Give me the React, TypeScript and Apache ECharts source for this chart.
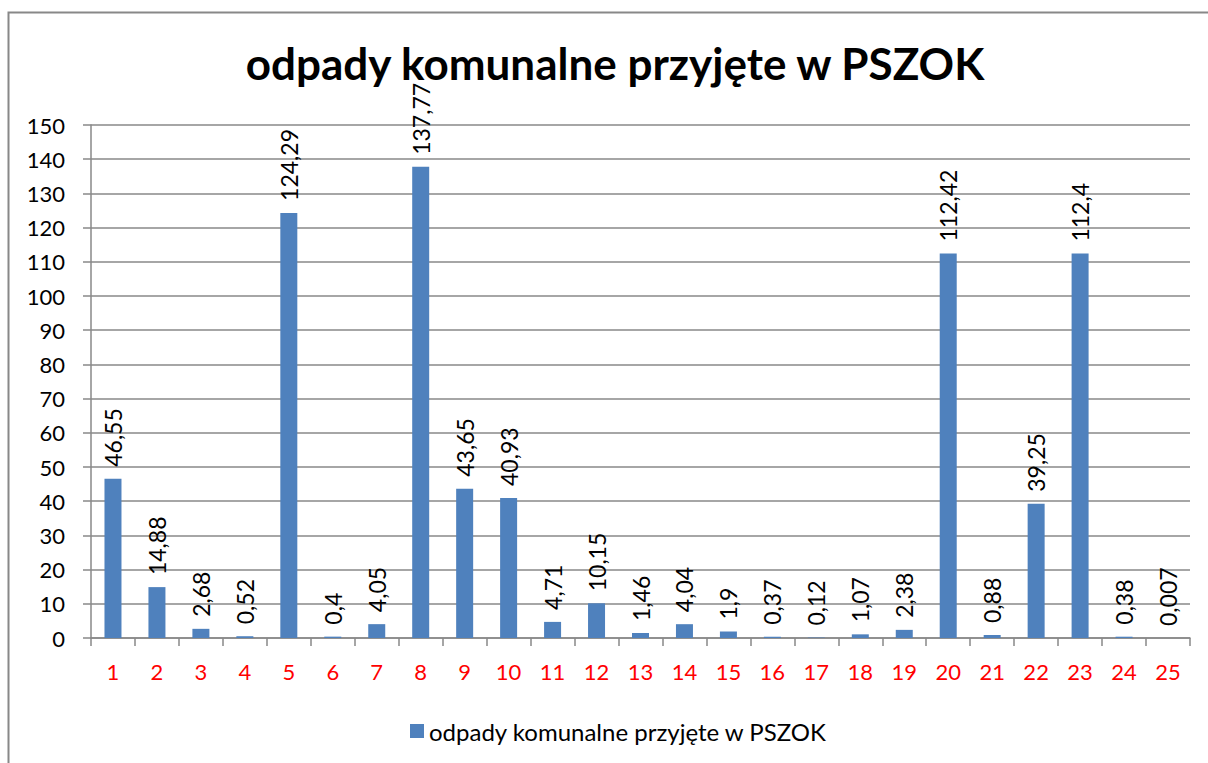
import React, { useEffect, useRef } from "react";
import * as echarts from "echarts";

const categories = ["1","2","3","4","5","6","7","8","9","10","11","12","13","14","15","16","17","18","19","20","21","22","23","24","25"];
const values = [46.55,14.88,2.68,0.52,124.29,0.4,4.05,137.77,43.65,40.93,4.71,10.15,1.46,4.04,1.9,0.37,0.12,1.07,2.38,112.42,0.88,39.25,112.4,0.38,0.007];
const labels = ["46,55","14,88","2,68","0,52","124,29","0,4","4,05","137,77","43,65","40,93","4,71","10,15","1,46","4,04","1,9","0,37","0,12","1,07","2,38","112,42","0,88","39,25","112,4","0,38","0,007"];
const seriesName = "odpady komunalne przyjęte w PSZOK";
const title = "odpady komunalne przyjęte w PSZOK";

const FONT = "Lato, 'Open Sans', sans-serif";

export default function App() {
  const ref = useRef<HTMLDivElement>(null);
  useEffect(() => {
    const chart = echarts.init(ref.current!, null, { renderer: "svg" });
    chart.setOption({
      animation: false,
      backgroundColor: "#fff",
      title: {
        text: title,
        left: 610,
        textAlign: "center",
        top: 36,
        textStyle: { fontFamily: FONT, fontSize: 44, fontWeight: "bold", color: "#000" },
      },
      graphic: [
        {
          type: "rect",
          shape: { x: 8.5, y: 12.5, width: 1230, height: 800 },
          style: { fill: "none", stroke: "#888", lineWidth: 2 },
          silent: true,
        },
      ],
      legend: {
        top: 714,
        left: 405,
        itemWidth: 14,
        itemHeight: 14,
        itemGap: 4,
        icon: "rect",
        textStyle: { fontFamily: FONT, fontSize: 24, color: "#000" },
        data: [seriesName],
      },
      grid: { left: 91, right: 18, top: 125, bottom: 125, containLabel: false },
      xAxis: {
        type: "category",
        data: categories,
        axisLine: { lineStyle: { color: "#888", width: 1.5 } },
        axisTick: { show: true, length: 8, lineStyle: { color: "#888", width: 1.5 } },
        axisLabel: { color: "#ff0000", fontFamily: FONT, fontSize: 22, margin: 22 },
      },
      yAxis: {
        type: "value",
        min: 0,
        max: 150,
        interval: 10,
        axisLine: { show: true, lineStyle: { color: "#888", width: 1.5 } },
        axisTick: { show: true, length: 8, lineStyle: { color: "#888", width: 1.5 } },
        splitLine: { lineStyle: { color: "#888", width: 1.5 } },
        axisLabel: { color: "#000", fontFamily: FONT, fontSize: 22, margin: 26 },
      },
      series: [
        {
          name: seriesName,
          type: "bar",
          data: values,
          barWidth: 17,
          itemStyle: { color: "#4F81BD" },
          label: {
            show: true,
            position: "top",
            rotate: 90,
            align: "left",
            verticalAlign: "middle",
            distance: 12,
            fontFamily: FONT,
            fontSize: 23,
            color: "#000",
            formatter: (p: any) => labels[p.dataIndex],
          },
        },
      ],
    });
    return () => chart.dispose();
  }, []);
  return <div ref={ref} style={{ position: "fixed", left: 0, top: 0, width: 1208, height: 763 }} />;
}
